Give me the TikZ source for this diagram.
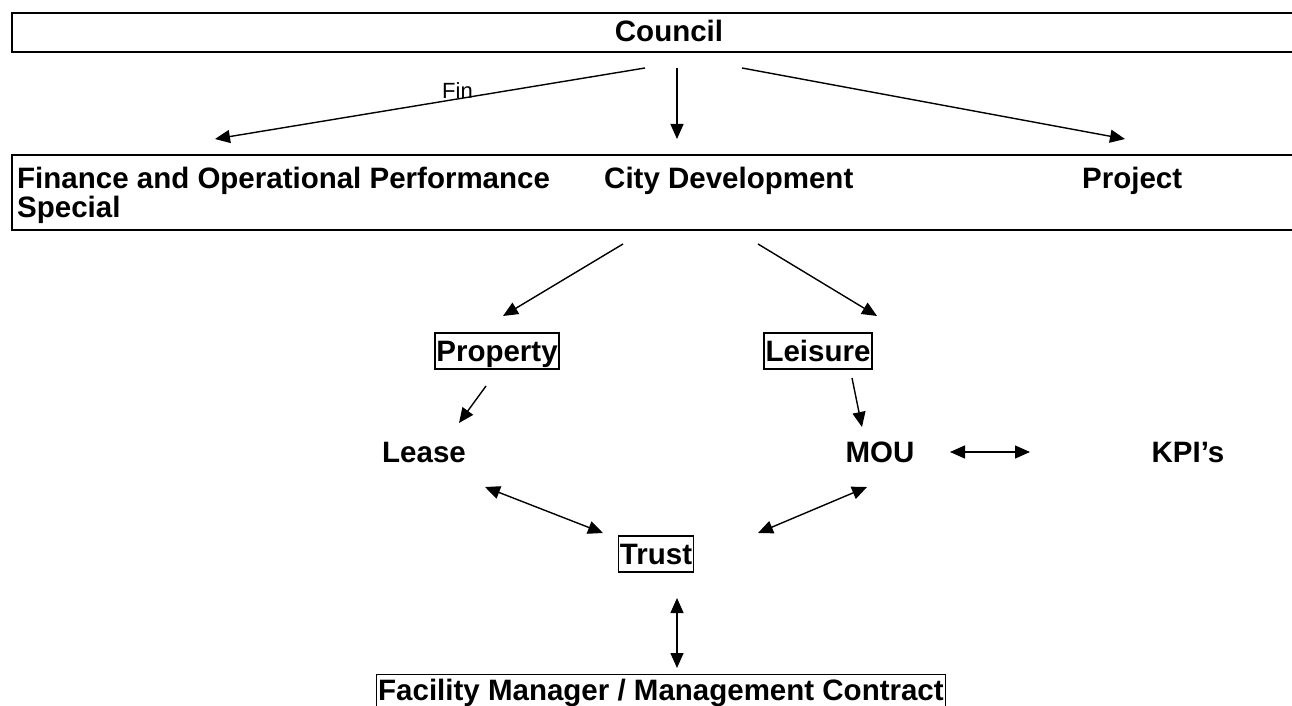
\documentclass[tikz,border=0pt]{standalone}
\usepackage{fontspec}
\setmainfont{Liberation Sans}
\usetikzlibrary{arrows.meta}
\tikzset{
  lbl/.style={font=\fontsize{29.5}{34}\selectfont\bfseries, inner sep=0pt},
  boxed/.style={lbl, draw, line width=1.4pt, inner xsep=1.5pt, inner ysep=1.5pt, text height=26.7pt, text depth=6.3pt},
  wide/.style={draw, line width=1.7pt, minimum width=1300pt, anchor=north west, inner sep=0pt},
  arr/.style={line width=1.4pt, -{Triangle[length=15pt,width=13pt]}},
  darr/.style={line width=1.4pt, {Triangle[length=15pt,width=13pt]}-{Triangle[length=15pt,width=13pt]}},
}
\begin{document}
\begin{tikzpicture}[x=1pt,y=-1pt]
\clip (0,0) rectangle (1292,706);
\useasboundingbox (0,0) rectangle (1292,706);
\fill[white] (0,0) rectangle (1292,706);
% top boxes
\node[wide, minimum height=39.5pt] (councilbox) at (11,12) {};
\node[lbl, anchor=base] (council) at (669,42) {Council};
\node[wide, minimum height=75pt] (secondbox) at (11,154) {};
\node[lbl, anchor=base west] (finance) at (17,188) {Finance and Operational Performance};
\node[lbl, anchor=base west] (special) at (17,217) {Special};
\node[lbl, anchor=base west] (city) at (604,188) {City Development};
\node[lbl, anchor=base west] (project) at (1082,188) {Project};
% council arrows
\coordinate (c1) at (645,68);
\coordinate (c2) at (677,68);
\coordinate (c3) at (742,68);
\coordinate (t1) at (215,139);
\coordinate (t2) at (677,139);
\coordinate (t3) at (1125,139);
\draw[arr] (c1) -- (t1);
\draw[arr] (c2) -- (t2);
\draw[arr] (c3) -- (t3);
\node[font=\fontsize{22}{26}\selectfont, inner sep=0pt, anchor=base west] (fin) at (442,99) {Fin};
% second level
\node[boxed] (property) at (497,351) {Property};
\node[boxed] (leisure) at (818,351) {Leisure};
\coordinate (d1) at (623,244);
\coordinate (d2) at (758,244);
\coordinate (pe) at (503,316);
\coordinate (le) at (877,316);
\draw[arr] (d1) -- (pe);
\draw[arr] (d2) -- (le);
\node[lbl, anchor=base] (lease) at (424,462) {Lease};
\node[lbl, anchor=base] (mou) at (880,462) {MOU};
\node[lbl, anchor=base] (kpi) at (1188,462) {KPI’s};
\coordinate (p1) at (486,386);
\coordinate (p2) at (459,423);
\coordinate (l1) at (852,378);
\coordinate (l2) at (862,427);
\draw[arr] (p1) -- (p2);
\draw[arr] (l1) -- (l2);
\coordinate (m1) at (950,452);
\coordinate (k1) at (1030,452);
\draw[darr] (m1) -- (k1);
\node[boxed] (trust) at (656,554) {Trust};
\coordinate (lt1) at (485,487);
\coordinate (lt2) at (603,533);
\coordinate (mt1) at (867,487);
\coordinate (mt2) at (758,533);
\draw[darr] (lt1) -- (lt2);
\draw[darr] (mt1) -- (mt2);
\coordinate (tf1) at (677,598);
\coordinate (tf2) at (677,668);
\draw[darr] (tf1) -- (tf2);
\node[boxed, anchor=north west, text height=24pt] (facility) at (376,674) {Facility Manager / Management Contract};
\end{tikzpicture}
\end{document}
